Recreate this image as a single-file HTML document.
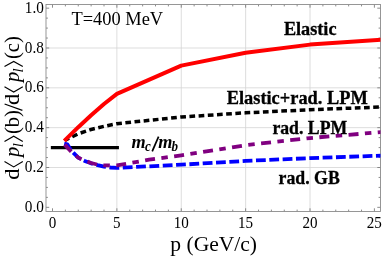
<!DOCTYPE html><html><head><meta charset="utf-8"><style>
html,body{margin:0;padding:0;background:#fff;}body{width:382px;height:256px;overflow:hidden;}svg{display:block;will-change:transform;}
text{font-family:"Liberation Serif",serif;fill:#000;}
</style></head><body>
<svg width="382" height="256" viewBox="0 0 382 256">
<rect width="382" height="256" fill="#fff"/>
<g stroke="#d4d4d4" stroke-width="0.8" fill="none"><line x1="116.88" y1="4.5" x2="116.88" y2="211.5"/><line x1="181.26" y1="4.5" x2="181.26" y2="211.5"/><line x1="245.64" y1="4.5" x2="245.64" y2="211.5"/><line x1="310.02" y1="4.5" x2="310.02" y2="211.5"/><line x1="46.0" y1="167.50" x2="380.5" y2="167.50"/><line x1="46.0" y1="127.66" x2="380.5" y2="127.66"/><line x1="46.0" y1="87.83" x2="380.5" y2="87.83"/><line x1="46.0" y1="47.99" x2="380.5" y2="47.99"/></g>
<g stroke="#6e6e6e" stroke-width="0.8" fill="none"><line x1="52.50" y1="211.5" x2="52.50" y2="208.3"/><line x1="52.50" y1="4.5" x2="52.50" y2="7.7"/><line x1="65.38" y1="211.5" x2="65.38" y2="209.6"/><line x1="65.38" y1="4.5" x2="65.38" y2="6.4"/><line x1="78.25" y1="211.5" x2="78.25" y2="209.6"/><line x1="78.25" y1="4.5" x2="78.25" y2="6.4"/><line x1="91.13" y1="211.5" x2="91.13" y2="209.6"/><line x1="91.13" y1="4.5" x2="91.13" y2="6.4"/><line x1="104.00" y1="211.5" x2="104.00" y2="209.6"/><line x1="104.00" y1="4.5" x2="104.00" y2="6.4"/><line x1="116.88" y1="211.5" x2="116.88" y2="208.3"/><line x1="116.88" y1="4.5" x2="116.88" y2="7.7"/><line x1="129.76" y1="211.5" x2="129.76" y2="209.6"/><line x1="129.76" y1="4.5" x2="129.76" y2="6.4"/><line x1="142.63" y1="211.5" x2="142.63" y2="209.6"/><line x1="142.63" y1="4.5" x2="142.63" y2="6.4"/><line x1="155.51" y1="211.5" x2="155.51" y2="209.6"/><line x1="155.51" y1="4.5" x2="155.51" y2="6.4"/><line x1="168.38" y1="211.5" x2="168.38" y2="209.6"/><line x1="168.38" y1="4.5" x2="168.38" y2="6.4"/><line x1="181.26" y1="211.5" x2="181.26" y2="208.3"/><line x1="181.26" y1="4.5" x2="181.26" y2="7.7"/><line x1="194.14" y1="211.5" x2="194.14" y2="209.6"/><line x1="194.14" y1="4.5" x2="194.14" y2="6.4"/><line x1="207.01" y1="211.5" x2="207.01" y2="209.6"/><line x1="207.01" y1="4.5" x2="207.01" y2="6.4"/><line x1="219.89" y1="211.5" x2="219.89" y2="209.6"/><line x1="219.89" y1="4.5" x2="219.89" y2="6.4"/><line x1="232.76" y1="211.5" x2="232.76" y2="209.6"/><line x1="232.76" y1="4.5" x2="232.76" y2="6.4"/><line x1="245.64" y1="211.5" x2="245.64" y2="208.3"/><line x1="245.64" y1="4.5" x2="245.64" y2="7.7"/><line x1="258.52" y1="211.5" x2="258.52" y2="209.6"/><line x1="258.52" y1="4.5" x2="258.52" y2="6.4"/><line x1="271.39" y1="211.5" x2="271.39" y2="209.6"/><line x1="271.39" y1="4.5" x2="271.39" y2="6.4"/><line x1="284.27" y1="211.5" x2="284.27" y2="209.6"/><line x1="284.27" y1="4.5" x2="284.27" y2="6.4"/><line x1="297.14" y1="211.5" x2="297.14" y2="209.6"/><line x1="297.14" y1="4.5" x2="297.14" y2="6.4"/><line x1="310.02" y1="211.5" x2="310.02" y2="208.3"/><line x1="310.02" y1="4.5" x2="310.02" y2="7.7"/><line x1="322.90" y1="211.5" x2="322.90" y2="209.6"/><line x1="322.90" y1="4.5" x2="322.90" y2="6.4"/><line x1="335.77" y1="211.5" x2="335.77" y2="209.6"/><line x1="335.77" y1="4.5" x2="335.77" y2="6.4"/><line x1="348.65" y1="211.5" x2="348.65" y2="209.6"/><line x1="348.65" y1="4.5" x2="348.65" y2="6.4"/><line x1="361.52" y1="211.5" x2="361.52" y2="209.6"/><line x1="361.52" y1="4.5" x2="361.52" y2="6.4"/><line x1="374.40" y1="211.5" x2="374.40" y2="208.3"/><line x1="374.40" y1="4.5" x2="374.40" y2="7.7"/><line x1="46.0" y1="207.33" x2="49.2" y2="207.33"/><line x1="380.5" y1="207.33" x2="377.3" y2="207.33"/><line x1="46.0" y1="197.37" x2="47.9" y2="197.37"/><line x1="380.5" y1="197.37" x2="378.6" y2="197.37"/><line x1="46.0" y1="187.41" x2="47.9" y2="187.41"/><line x1="380.5" y1="187.41" x2="378.6" y2="187.41"/><line x1="46.0" y1="177.45" x2="47.9" y2="177.45"/><line x1="380.5" y1="177.45" x2="378.6" y2="177.45"/><line x1="46.0" y1="167.50" x2="49.2" y2="167.50"/><line x1="380.5" y1="167.50" x2="377.3" y2="167.50"/><line x1="46.0" y1="157.54" x2="47.9" y2="157.54"/><line x1="380.5" y1="157.54" x2="378.6" y2="157.54"/><line x1="46.0" y1="147.58" x2="47.9" y2="147.58"/><line x1="380.5" y1="147.58" x2="378.6" y2="147.58"/><line x1="46.0" y1="137.62" x2="47.9" y2="137.62"/><line x1="380.5" y1="137.62" x2="378.6" y2="137.62"/><line x1="46.0" y1="127.66" x2="49.2" y2="127.66"/><line x1="380.5" y1="127.66" x2="377.3" y2="127.66"/><line x1="46.0" y1="117.70" x2="47.9" y2="117.70"/><line x1="380.5" y1="117.70" x2="378.6" y2="117.70"/><line x1="46.0" y1="107.75" x2="47.9" y2="107.75"/><line x1="380.5" y1="107.75" x2="378.6" y2="107.75"/><line x1="46.0" y1="97.79" x2="47.9" y2="97.79"/><line x1="380.5" y1="97.79" x2="378.6" y2="97.79"/><line x1="46.0" y1="87.83" x2="49.2" y2="87.83"/><line x1="380.5" y1="87.83" x2="377.3" y2="87.83"/><line x1="46.0" y1="77.87" x2="47.9" y2="77.87"/><line x1="380.5" y1="77.87" x2="378.6" y2="77.87"/><line x1="46.0" y1="67.91" x2="47.9" y2="67.91"/><line x1="380.5" y1="67.91" x2="378.6" y2="67.91"/><line x1="46.0" y1="57.95" x2="47.9" y2="57.95"/><line x1="380.5" y1="57.95" x2="378.6" y2="57.95"/><line x1="46.0" y1="47.99" x2="49.2" y2="47.99"/><line x1="380.5" y1="47.99" x2="377.3" y2="47.99"/><line x1="46.0" y1="38.04" x2="47.9" y2="38.04"/><line x1="380.5" y1="38.04" x2="378.6" y2="38.04"/><line x1="46.0" y1="28.08" x2="47.9" y2="28.08"/><line x1="380.5" y1="28.08" x2="378.6" y2="28.08"/><line x1="46.0" y1="18.12" x2="47.9" y2="18.12"/><line x1="380.5" y1="18.12" x2="378.6" y2="18.12"/><line x1="46.0" y1="8.16" x2="49.2" y2="8.16"/><line x1="380.5" y1="8.16" x2="377.3" y2="8.16"/></g>
<rect x="46.0" y="4.5" width="334.5" height="207.0" fill="none" stroke="#8c8c8c" stroke-width="0.9"/>
<clipPath id="c"><rect x="46.0" y="4.5" width="334.5" height="207.0"/></clipPath>
<g clip-path="url(#c)" fill="none" stroke-linejoin="round">
<line x1="52.50" y1="147.68" x2="117.28" y2="147.68" stroke="#000" stroke-width="3.3" stroke-linecap="square"/>
<polyline points="63.70,143.50 67.31,144.39 71.81,151.26 78.25,157.64 84.69,160.92 91.13,163.31 97.57,165.11 104.00,166.60 110.44,167.50 116.88,167.89 181.26,164.71 245.64,160.92 310.02,158.14 382.13,155.61" stroke="#0000ff" stroke-width="3.8" stroke-dasharray="9.8 3.54" stroke-dashoffset="12.81"/>
<polyline points="64.60,144.59 71.81,152.16 78.25,157.64 84.69,160.62 91.13,163.01 97.57,164.61 104.00,165.31 110.44,165.46 116.88,165.38 149.07,159.73 181.26,155.35 245.64,145.19 310.02,138.02 382.13,132.04" stroke="#800080" stroke-width="3.8" stroke-dasharray="10 6.4 6.5 6.4" stroke-dashoffset="0.36"/>
<polyline points="65.38,140.11 78.25,133.84 91.13,129.45 104.00,126.37 116.88,123.68 181.26,117.01 245.64,112.82 310.02,109.74 382.13,106.95" stroke="#000" stroke-width="3.5" stroke-dasharray="5.7 3.5" stroke-dashoffset="1.56"/>
<polyline points="64.28,140.85 78.25,127.16 91.13,115.19 104.00,103.96 116.88,93.90 181.26,65.60 245.64,52.77 310.02,44.61 382.13,39.73" stroke="#ff0000" stroke-width="4.0"/>
</g>
<text transform="translate(52.40,228.00) scale(0.93,1)" font-size="16.2" text-anchor="middle" >0</text>
<text transform="translate(116.78,228.00) scale(0.93,1)" font-size="16.2" text-anchor="middle" >5</text>
<text transform="translate(181.16,228.00) scale(0.93,1)" font-size="16.2" text-anchor="middle" >10</text>
<text transform="translate(245.54,228.00) scale(0.93,1)" font-size="16.2" text-anchor="middle" >15</text>
<text transform="translate(309.92,228.00) scale(0.93,1)" font-size="16.2" text-anchor="middle" >20</text>
<text transform="translate(374.30,228.00) scale(0.93,1)" font-size="16.2" text-anchor="middle" >25</text>
<text transform="translate(43.90,211.93) scale(0.93,1)" font-size="16.4" text-anchor="end" >0.0</text>
<text transform="translate(43.90,172.10) scale(0.93,1)" font-size="16.4" text-anchor="end" >0.2</text>
<text transform="translate(43.90,132.26) scale(0.93,1)" font-size="16.4" text-anchor="end" >0.4</text>
<text transform="translate(43.90,92.43) scale(0.93,1)" font-size="16.4" text-anchor="end" >0.6</text>
<text transform="translate(43.90,52.59) scale(0.93,1)" font-size="16.4" text-anchor="end" >0.8</text>
<text transform="translate(43.90,12.76) scale(0.93,1)" font-size="16.4" text-anchor="end" >1.0</text>
<text transform="translate(71.40,25.10) scale(0.97,1)" font-size="19" text-anchor="start" >T=400 MeV</text>
<text transform="translate(170.30,251.00) scale(0.98,1)" font-size="22" text-anchor="start" >p (GeV/c)</text>
<text x="283.9" y="34.7" font-size="18.2" font-weight="bold" stroke="#000" stroke-width="0.3" textLength="52.6" lengthAdjust="spacingAndGlyphs">Elastic</text>
<text x="226.7" y="104.2" font-size="18.2" font-weight="bold" stroke="#000" stroke-width="0.3" textLength="141.1" lengthAdjust="spacingAndGlyphs">Elastic+rad. LPM</text>
<text x="272.4" y="133.8" font-size="18.2" font-weight="bold" stroke="#000" stroke-width="0.3" textLength="74.8" lengthAdjust="spacingAndGlyphs">rad. LPM</text>
<text x="278.6" y="183.8" font-size="18.2" font-weight="bold" stroke="#000" stroke-width="0.3" textLength="61.2" lengthAdjust="spacingAndGlyphs">rad. GB</text>
<text transform="translate(131.60,147.60) scale(0.92,1)" font-size="19.8" text-anchor="start" font-weight="bold" font-style="italic">m</text>
<text transform="translate(145.00,151.00) scale(0.92,1)" font-size="14.2" text-anchor="start" font-weight="bold" font-style="italic">c</text>
<line x1="152.2" y1="151.4" x2="158.6" y2="136.6" stroke="#000" stroke-width="1.7"/>
<text transform="translate(158.20,147.60) scale(0.92,1)" font-size="19.8" text-anchor="start" font-weight="bold" font-style="italic">m</text>
<text transform="translate(171.50,151.00) scale(0.92,1)" font-size="14.2" text-anchor="start" font-weight="bold" font-style="italic">b</text>
<g transform="translate(19.4,179.2) rotate(-90)">
<g font-size="20.6">
<text transform="translate(-0.60,0) scale(1.09,1)">d</text>
<text x="22.30" y="0" font-style="italic">p</text>
<text x="31.90" y="3.6" font-style="italic" font-size="14.6">l</text>
<text transform="translate(74.20,0) scale(1.09,1)">d</text>
<text x="97.10" y="0" font-style="italic">p</text>
<text x="106.70" y="3.6" font-style="italic" font-size="14.6">l</text>
<text x="45.1" y="0">(b)</text>
<line x1="68.9" y1="3.0" x2="75.2" y2="-14.8" stroke="#000" stroke-width="1.25"/>
<text x="120.10" y="0">(c)</text>
</g>
<g fill="none" stroke="#000" stroke-width="1.15" stroke-linejoin="miter">
<polyline points="17.60,-14.9 12.30,-5.7 17.60,3.4"/><polyline points="37.80,-14.9 43.00,-5.7 37.80,3.4"/>
<polyline points="92.40,-14.9 87.10,-5.7 92.40,3.4"/><polyline points="112.60,-14.9 117.80,-5.7 112.60,3.4"/>
</g></g>
</svg></body></html>
